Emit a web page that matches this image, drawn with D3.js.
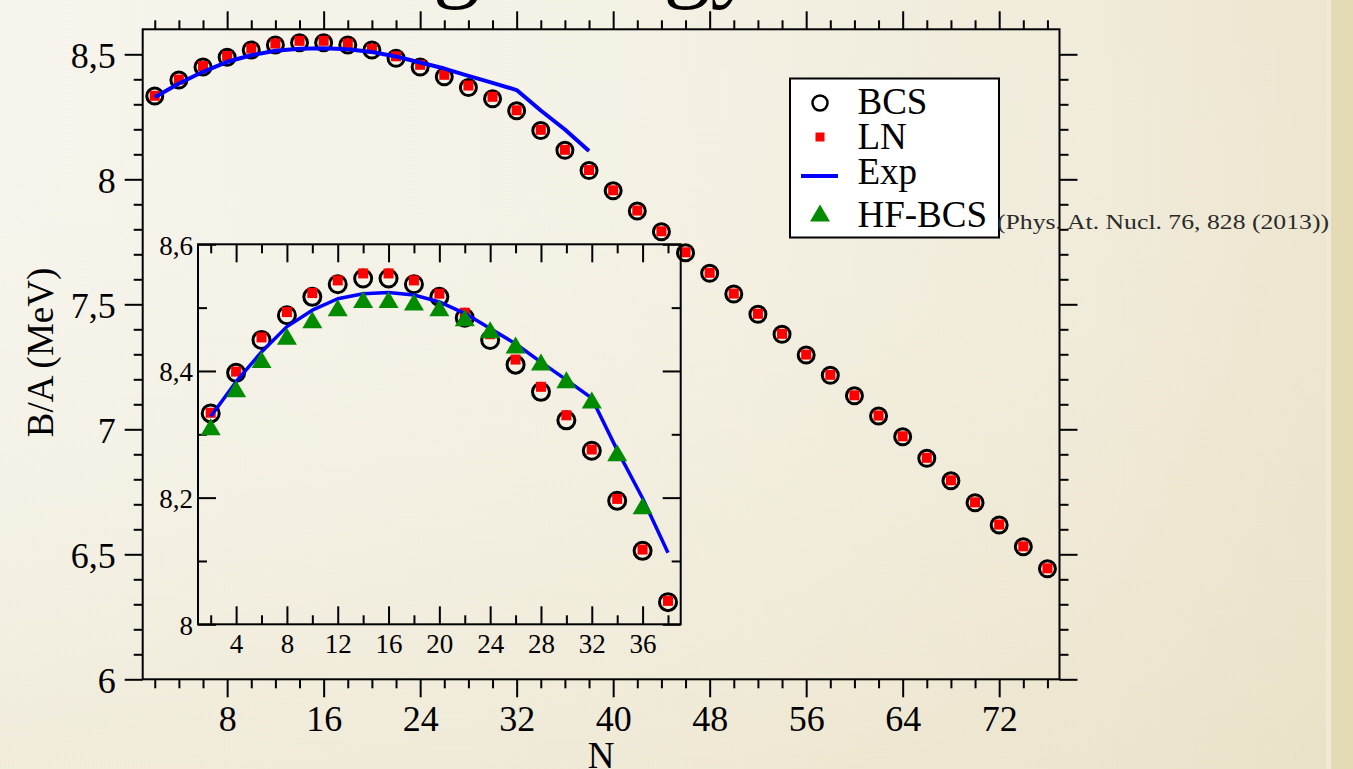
<!DOCTYPE html>
<html>
<head>
<meta charset="utf-8">
<script src="https://cdn.jsdelivr.net/npm/d3@7/dist/d3.min.js"></script>
<style>
  html, body { margin: 0; padding: 0; overflow: hidden; background: #f4f0e4; }
  svg { display: block; }
  text { font-family: "Liberation Serif", "Times New Roman", serif; fill: #000; }
</style>
</head>
<body>
<svg id="chart" width="1353" height="769"></svg>
<script>
// ---- data: binding energy per nucleon vs neutron number ----
const nAll = [2, 4, 6, 8, 10, 12, 14, 16, 18, 20, 22, 24, 26, 28, 30, 32, 34, 36, 38,
              40, 42, 44, 46, 48, 50, 52, 54, 56, 58, 60, 62, 64, 66, 68, 70, 72, 74, 76];
const bcs = [8.333, 8.397, 8.449, 8.488, 8.517, 8.537, 8.546, 8.546, 8.537, 8.517,
             8.484, 8.449, 8.410, 8.367, 8.322, 8.274, 8.195, 8.116, 8.035,
             7.954, 7.873, 7.790, 7.706, 7.624, 7.541, 7.460, 7.380, 7.297, 7.216,
             7.134, 7.053, 6.970, 6.884, 6.794, 6.706, 6.617, 6.530, 6.442];
const ln = [8.334, 8.399, 8.453, 8.493, 8.523, 8.543, 8.554, 8.554, 8.543, 8.522,
            8.492, 8.458, 8.418, 8.375, 8.330, 8.276, 8.198, 8.118, 8.037,
            7.956, 7.875, 7.792, 7.708, 7.626, 7.543, 7.462, 7.382, 7.299, 7.218,
            7.136, 7.055, 6.972, 6.886, 6.796, 6.708, 6.619, 6.532, 6.444];
const nExp = [2, 4, 6, 8, 10, 12, 14, 16, 18, 20, 22, 24, 26, 28, 30, 32, 34, 36, 38];
const expData = [8.328, 8.383, 8.430, 8.470, 8.496, 8.514, 8.522, 8.524, 8.520, 8.509,
                 8.491, 8.467, 8.443, 8.414, 8.386, 8.357, 8.275, 8.199, 8.113];
const nHf = [2, 4, 6, 8, 10, 12, 14, 16, 18, 20, 22, 24, 26, 28, 30, 32, 34, 36];
const hfbcs = [8.312, 8.372, 8.418, 8.455, 8.481, 8.500, 8.513, 8.513, 8.509, 8.500,
               8.484, 8.465, 8.441, 8.414, 8.386, 8.354, 8.271, 8.187];

const mainXTicks = [8, 16, 24, 32, 40, 48, 56, 64, 72];
const mainYTicks = [6, 6.5, 7, 7.5, 8, 8.5];
const insetXTicks = [4, 8, 12, 16, 20, 24, 28, 32, 36];
const insetYTicks = [8, 8.2, 8.4, 8.6];
const legendLabels = ["BCS", "LN", "Exp", "HF-BCS"];
const citation = "(Phys. At. Nucl. 76, 828 (2013))";
const xTitle = "N";
const yTitle = "B/A (MeV)";
const slideTitle = "Binding energy";

// ---- colours ----
const BLUE = "#0000ff", RED = "#ff0000", GREEN = "#008b00";

const svg = d3.select("#chart");
const W = 1353, H = 769;

// ---- parchment background ----
const defs = svg.append("defs");
const gh = defs.append("linearGradient").attr("id", "bgH").attr("x1", 0).attr("x2", 1).attr("y1", 0).attr("y2", 0);
[[0, "#f6f4ec"], [0.45, "#f4f1e5"], [0.8, "#f0ebda"], [1, "#ece5ce"]].forEach(([o, c]) =>
  gh.append("stop").attr("offset", o).attr("stop-color", c));
const gv = defs.append("linearGradient").attr("id", "bgV").attr("x1", 0).attr("x2", 0).attr("y1", 0).attr("y2", 1);
[[0, "#ffffff", 0.0], [0.6, "#e8dfc0", 0.12], [1, "#e3d8b4", 0.3]].forEach(([o, c, a]) =>
  gv.append("stop").attr("offset", o).attr("stop-color", c).attr("stop-opacity", a));
svg.append("rect").attr("width", W).attr("height", H).attr("fill", "url(#bgH)");
svg.append("rect").attr("width", W).attr("height", H).attr("fill", "url(#bgV)");
svg.append("rect").attr("x", 1326).attr("y", 0).attr("width", 5).attr("height", H).attr("fill", "#f0e9d4");
svg.append("rect").attr("x", 1331).attr("y", 0).attr("width", W - 1331).attr("height", H).attr("fill", "#e5dab6");

// ---- slide title (mostly above the page edge) ----
svg.append("text").attr("x", 177).attr("y", -10)
  .attr("font-size", 94).text(slideTitle);

// ---- helpers ----
function styleAxis(g, size) {
  g.attr("font-family", null).attr("font-size", null);
  g.select(".domain").remove();
  g.selectAll(".tick line").attr("stroke", "#000").attr("stroke-width", 2);
  g.selectAll(".tick text").attr("font-size", size).attr("fill", "#000");
}
function minorRange(lo, hi, step, majors) {
  const out = [];
  for (let v = lo; v <= hi + 1e-9; v += step) {
    const r = Math.round(v * 1000) / 1000;
    if (!majors.some(m => Math.abs(m - r) < 1e-6)) out.push(r);
  }
  return out;
}
function triPath(cx, cy, w, h) {
  return `M${cx},${cy - h / 2}L${cx + w / 2},${cy + h / 2}L${cx - w / 2},${cy + h / 2}Z`;
}

// =================== main panel ===================
const M = { left: 142.7, right: 1059.5, top: 29.3, bottom: 679.3 };
const x = d3.scaleLinear().domain([1, 77]).range([M.left, M.right]);
const y = d3.scaleLinear().domain([6, 8.6]).range([M.bottom, M.top]);

const mainXMinor = minorRange(2, 76, 2, mainXTicks);
const mainYMinor = minorRange(6.1, 8.5, 0.1, mainYTicks);
const fmtComma = d => String(d).replace(".", ",");

const axes = svg.append("g");
// bottom
axes.append("g").attr("transform", `translate(0,${M.bottom})`)
  .call(d3.axisBottom(x).tickValues(mainXMinor).tickSize(9).tickFormat(""))
  .call(g => styleAxis(g, 36));
axes.append("g").attr("transform", `translate(0,${M.bottom})`)
  .call(d3.axisBottom(x).tickValues(mainXTicks).tickSize(18).tickPadding(8).tickFormat(d3.format("d")))
  .call(g => styleAxis(g, 36));
// top
axes.append("g").attr("transform", `translate(0,${M.top})`)
  .call(d3.axisTop(x).tickValues(mainXMinor).tickSize(9).tickFormat(""))
  .call(g => styleAxis(g, 36));
axes.append("g").attr("transform", `translate(0,${M.top})`)
  .call(d3.axisTop(x).tickValues(mainXTicks).tickSize(18).tickFormat(""))
  .call(g => styleAxis(g, 36));
// left
axes.append("g").attr("transform", `translate(${M.left},0)`)
  .call(d3.axisLeft(y).tickValues(mainYMinor).tickSize(9).tickFormat(""))
  .call(g => styleAxis(g, 36));
axes.append("g").attr("transform", `translate(${M.left},0)`)
  .call(d3.axisLeft(y).tickValues(mainYTicks).tickSize(18).tickPadding(9).tickFormat(fmtComma))
  .call(g => { styleAxis(g, 36); g.selectAll(".tick text").attr("dy", "0.38em"); });
// right
axes.append("g").attr("transform", `translate(${M.right},0)`)
  .call(d3.axisRight(y).tickValues(mainYMinor).tickSize(9).tickFormat(""))
  .call(g => styleAxis(g, 36));
axes.append("g").attr("transform", `translate(${M.right},0)`)
  .call(d3.axisRight(y).tickValues(mainYTicks).tickSize(18).tickFormat(""))
  .call(g => styleAxis(g, 36));

svg.append("rect").attr("x", M.left).attr("y", M.top)
  .attr("width", M.right - M.left).attr("height", M.bottom - M.top)
  .attr("fill", "none").attr("stroke", "#000").attr("stroke-width", 2);

// axis titles
svg.append("text").attr("x", (M.left + M.right) / 2).attr("y", 768)
  .attr("text-anchor", "middle").attr("font-size", 37).text(xTitle);
svg.append("text").attr("transform", "translate(53,352.5) rotate(-90)")
  .attr("text-anchor", "middle").attr("font-size", 37).text(yTitle);

// series drawing shared by the main panel and the inset
function drawSeries(g, xs, ys, opt, maxN) {
  const pts = (ns, vs) => ns.map((n, i) => ({ n, v: vs[i] })).filter(d => d.n <= maxN);
  g.append("g").selectAll("circle").data(pts(nAll, bcs)).join("circle")
    .attr("cx", d => xs(d.n)).attr("cy", d => ys(d.v)).attr("r", opt.r)
    .attr("fill", "none").attr("stroke", "#000").attr("stroke-width", opt.sw);
  g.append("g").selectAll("rect").data(pts(nAll, ln)).join("rect")
    .attr("x", d => xs(d.n) - opt.sq / 2).attr("y", d => ys(d.v) - opt.sq / 2)
    .attr("width", opt.sq).attr("height", opt.sq).attr("fill", RED);
  g.append("path").datum(pts(nExp, expData))
    .attr("fill", "none").attr("stroke", BLUE).attr("stroke-width", opt.lw)
    .attr("stroke-linejoin", "round")
    .attr("d", d3.line().x(d => xs(d.n)).y(d => ys(d.v)));
  if (opt.hf) {
    g.append("g").selectAll("path").data(pts(nHf, hfbcs)).join("path")
      .attr("d", d => triPath(xs(d.n), ys(d.v), 20, 17)).attr("fill", GREEN);
  }
}

drawSeries(svg.append("g"), x, y, { r: 8, sw: 3, sq: 10, lw: 4, hf: false }, 100);

// =================== inset ===================
const I = { left: 198, right: 680.7, top: 244.3, bottom: 624.3 };
const xi = d3.scaleLinear().domain([1, 39]).range([I.left, I.right]);
const yi = d3.scaleLinear().domain([8, 8.6]).range([I.bottom, I.top]);
const insetXMinor = minorRange(2, 38, 2, insetXTicks);
const insetYMinor = [8.1, 8.3, 8.5];

const ia = svg.append("g");
ia.append("g").attr("transform", `translate(0,${I.bottom})`)
  .call(d3.axisBottom(xi).tickValues(insetXMinor).tickSize(-9).tickFormat(""))
  .call(g => styleAxis(g, 27));
ia.append("g").attr("transform", `translate(0,${I.bottom})`)
  .call(d3.axisBottom(xi).tickValues(insetXTicks).tickSize(-18).tickPadding(10).tickFormat(d3.format("d")))
  .call(g => styleAxis(g, 27));
ia.append("g").attr("transform", `translate(0,${I.top})`)
  .call(d3.axisTop(xi).tickValues(insetXMinor).tickSize(-9).tickFormat(""))
  .call(g => styleAxis(g, 27));
ia.append("g").attr("transform", `translate(0,${I.top})`)
  .call(d3.axisTop(xi).tickValues(insetXTicks).tickSize(-18).tickFormat(""))
  .call(g => styleAxis(g, 27));
ia.append("g").attr("transform", `translate(${I.left},0)`)
  .call(d3.axisLeft(yi).tickValues(insetYMinor).tickSize(-9).tickFormat(""))
  .call(g => styleAxis(g, 27));
ia.append("g").attr("transform", `translate(${I.left},0)`)
  .call(d3.axisLeft(yi).tickValues(insetYTicks).tickSize(-18).tickPadding(5).tickFormat(fmtComma))
  .call(g => { styleAxis(g, 27); g.selectAll(".tick text").attr("dy", "0.36em"); });
ia.append("g").attr("transform", `translate(${I.right},0)`)
  .call(d3.axisRight(yi).tickValues(insetYMinor).tickSize(-9).tickFormat(""))
  .call(g => styleAxis(g, 27));
ia.append("g").attr("transform", `translate(${I.right},0)`)
  .call(d3.axisRight(yi).tickValues(insetYTicks).tickSize(-18).tickFormat(""))
  .call(g => styleAxis(g, 27));

svg.append("rect").attr("x", I.left).attr("y", I.top)
  .attr("width", I.right - I.left).attr("height", I.bottom - I.top)
  .attr("fill", "none").attr("stroke", "#000").attr("stroke-width", 2);

drawSeries(svg.append("g"), xi, yi, { r: 8.5, sw: 3, sq: 10, lw: 3.5, hf: true }, 38);

// =================== legend ===================
const L = svg.append("g");
L.append("rect").attr("x", 790).attr("y", 78.5).attr("width", 209).attr("height", 159)
  .attr("fill", "#fff").attr("stroke", "#000").attr("stroke-width", 2);
const legendY = [114, 149, 184, 226.7];
L.append("circle").attr("cx", 820).attr("cy", 103).attr("r", 7.5)
  .attr("fill", "none").attr("stroke", "#000").attr("stroke-width", 2.5);
L.append("rect").attr("x", 815.5).attr("y", 132.5).attr("width", 9).attr("height", 9).attr("fill", RED);
L.append("line").attr("x1", 801).attr("x2", 838).attr("y1", 176).attr("y2", 176)
  .attr("stroke", BLUE).attr("stroke-width", 4);
L.append("path").attr("d", triPath(820, 213, 20, 17)).attr("fill", GREEN);
L.selectAll("text.lg").data(legendLabels).join("text").attr("class", "lg")
  .attr("x", 857.5).attr("y", (d, i) => legendY[i]).attr("font-size", 37).text(d => d);

// reference note next to the legend
svg.append("text").attr("x", 997).attr("y", 229).attr("font-size", 22)
  .attr("textLength", 332).attr("lengthAdjust", "spacingAndGlyphs")
  .style("fill", "#2a2a2a").text(citation);
</script>
</body>
</html>
